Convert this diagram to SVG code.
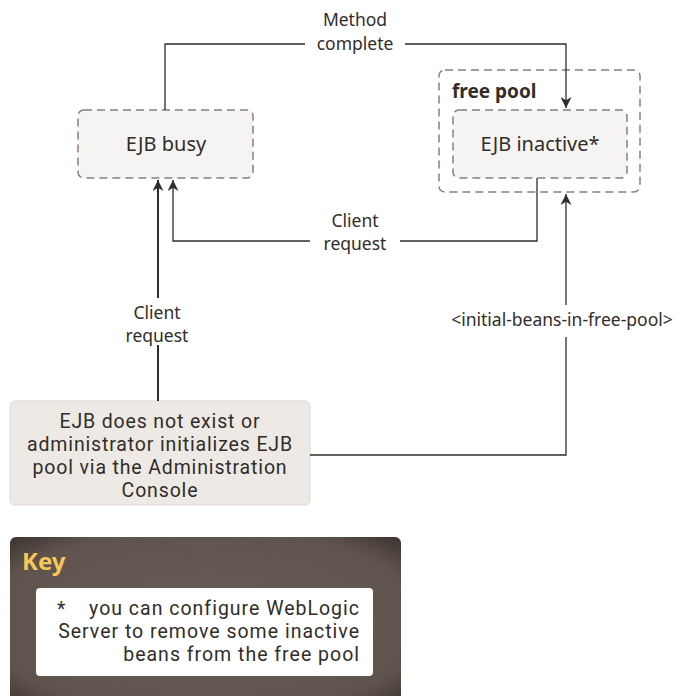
<svg xmlns="http://www.w3.org/2000/svg" width="681" height="696" viewBox="0 0 681 696">
<defs>
<marker id="ah" viewBox="0 0 10 10" refX="10" refY="5" markerWidth="11" markerHeight="11" markerUnits="userSpaceOnUse" orient="auto">
<path d="M0,0 L10,5 L0,10 L3,5 Z" fill="#312d2a"/>
</marker>
<radialGradient id="kg" cx="0.5" cy="0.5" r="0.7">
<stop offset="0" stop-color="#6a5d56"/>
<stop offset="0.8" stop-color="#5f534d"/>
<stop offset="1" stop-color="#3e3531"/>
</radialGradient>
</defs>
<style>
text{font-family:"Noto Sans","Open Sans","Liberation Sans",sans-serif;fill:#312d2a}
.state{fill:#f5f4f2;stroke:#8a7f78;stroke-width:1.5;stroke-dasharray:8,5}
.pool{fill:none;stroke:#8a7f78;stroke-width:1.5;stroke-dasharray:8,5}
.conn{fill:none;stroke:#312d2a;stroke-width:1.3}
.lbl{font-size:17.5px;text-anchor:middle}
.big{font-size:20px;text-anchor:middle}
.multi{font-family:Roboto,"Liberation Sans",sans-serif;font-size:19.5px;text-anchor:middle;letter-spacing:0.85px}
.key{font-family:Roboto,"Liberation Sans",sans-serif;font-size:19.5px;text-anchor:end;letter-spacing:1px}
</style>
<rect width="681" height="696" fill="#ffffff"/>
<g id="free-pool">
<rect class="pool" x="439" y="70" width="201" height="122" rx="6"/>
<text x="452" y="98" style="font-size:19px;font-weight:bold">free pool</text>
</g>
<g id="ejb-busy">
<rect class="state" x="78" y="110" width="175" height="68" rx="6"/>
<text class="big" x="166" y="151">EJB busy</text>
</g>
<g id="ejb-inactive">
<rect class="state" x="453" y="110" width="174" height="68" rx="6"/>
<text class="big" x="540" y="151">EJB inactive*</text>
</g>
<g id="ejb-not-exist">
<rect x="10" y="401" width="300" height="104" rx="5" fill="#ede9e4" stroke="#ddd7d1" stroke-width="1"/>
<text class="multi" x="160" y="428">EJB does not exist or</text>
<text class="multi" x="160" y="451">administrator initializes EJB</text>
<text class="multi" x="160" y="474">pool via the Administration</text>
<text class="multi" x="160" y="497">Console</text>
</g>
<g id="connectors">
<path class="conn" d="M165,110 V44 H305 M405,44 H566 V108" marker-end="url(#ah)"/>
<path class="conn" d="M537,178 V241 H400 M310,241 H173 V180" marker-end="url(#ah)"/>
<path class="conn" d="M158,401 V345 M158,298 V180" style="stroke-width:2" marker-end="url(#ah)"/>
<path class="conn" d="M310,455 H566 V337 M566,305 V194" marker-end="url(#ah)"/>
<text class="lbl" x="355" y="26">Method</text>
<text class="lbl" x="355" y="50">complete</text>
<text class="lbl" x="355" y="227">Client</text>
<text class="lbl" x="355" y="250">request</text>
<text class="lbl" x="157" y="319">Client</text>
<text class="lbl" x="157" y="342">request</text>
<text class="lbl" x="562" y="326">&lt;initial-beans-in-free-pool&gt;</text>
</g>
<g id="key">
<rect x="10" y="537" width="391" height="170" rx="6" fill="url(#kg)"/>
<text x="22" y="570" style="font-size:24px;font-weight:bold;fill:#f5c65a">Key</text>
<rect x="36" y="588" width="337" height="88" rx="4" fill="#ffffff"/>
<text class="key" x="57" y="616" style="text-anchor:start">*</text>
<text class="key" x="360" y="615">you can configure WebLogic</text>
<text class="key" x="360" y="638">Server to remove some inactive</text>
<text class="key" x="360" y="661">beans from the free pool</text>
</g>
</svg>
